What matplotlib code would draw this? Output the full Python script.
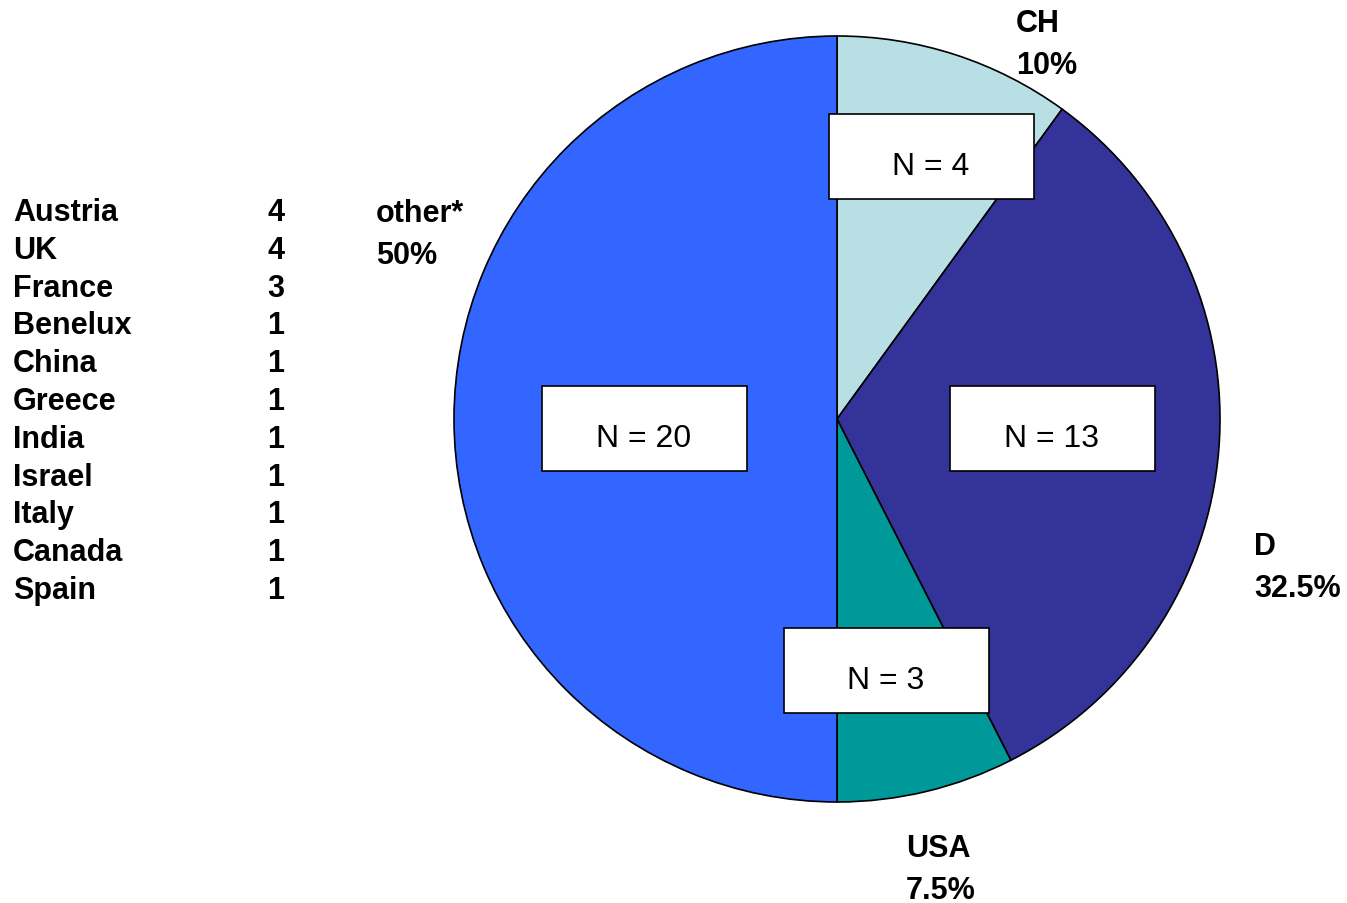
import matplotlib
matplotlib.use("Agg")
import matplotlib.pyplot as plt
from matplotlib.patches import Rectangle

# Data
slice_names = ["CH", "D", "USA", "other*"]
slice_counts = [4, 13, 3, 20]
slice_colors = ["#B8E0E4", "#333399", "#009999", "#3366FF"]

other_countries = ["Austria", "UK", "France", "Benelux", "China", "Greece",
                   "India", "Israel", "Italy", "Canada", "Spain"]
other_counts = [4, 4, 3, 1, 1, 1, 1, 1, 1, 1, 1]

# Layout (pixel coords, y downwards)
W, H = 1347, 904
center = (837, 420)
radius = 383
outer_label_pos = [(1016, 45), (1254, 568), (906, 870), (376, 235)]
box_centers = [(931, 157), (1052, 429), (886, 671), (644, 429)]
box_w, box_h = 205, 85

plt.rcParams['font.family'] = ['Liberation Sans', 'DejaVu Sans']

fig = plt.figure(figsize=(W / 100, H / 100), dpi=100)
ax = fig.add_axes([0, 0, 1, 1])

#Pie, y axis inverted so counterclock in data is clockwise on screen
ax.pie(slice_counts, colors=slice_colors, center=center, radius=radius,
       startangle=-90, counterclock=True,
       wedgeprops=dict(edgecolor="black", linewidth=1.2))
ax.set_xlim(0, W)
ax.set_ylim(H, 0)
ax.set_aspect("equal")
ax.axis("off")

total = sum(slice_counts)
for name, n, (lx, ly), (bx, by) in zip(slice_names, slice_counts, outer_label_pos, box_centers):
    pct = 100.0 * n / total
    pct_txt = ("%g" % pct) + "%"
    ax.text(lx, ly, name + "\n" + pct_txt, ha="left", va="center",
            fontsize=22, fontweight="bold", linespacing=1.5)
    ax.add_patch(Rectangle((bx - box_w / 2, by - box_h / 2), box_w, box_h,
                           facecolor="white", edgecolor="black", linewidth=1.2, zorder=3))
    ax.text(bx, by + 10, "N = %d" % n, ha="center", va="center", fontsize=23, zorder=4)

#List of countries in "other"
row_y0, row_step = 213, 37.8
for i, (c, v) in enumerate(zip(other_countries, other_counts)):
    y = row_y0 + i * row_step
    ax.text(13, y, c, ha="left", va="center", fontsize=22, fontweight="bold")
    ax.text(276, y, str(v), ha="center", va="center", fontsize=22, fontweight="bold")

fig.savefig("out.png", dpi=100)
